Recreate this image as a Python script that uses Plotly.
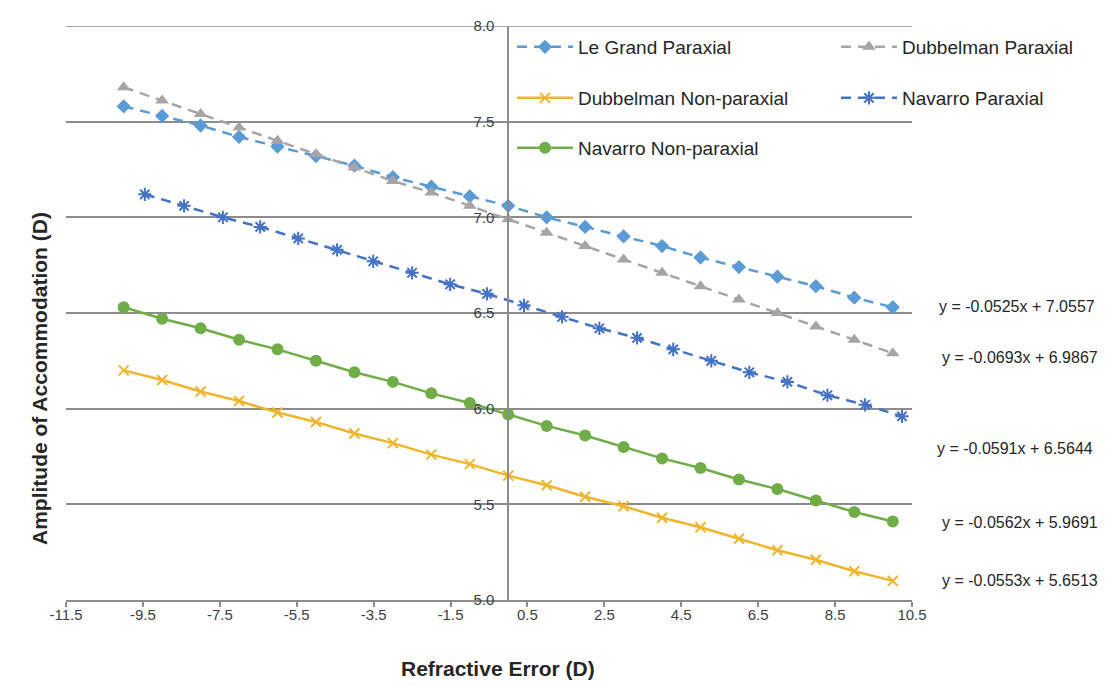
import plotly.graph_objects as go

# ---------------- data ----------------
x_int = [-10, -9, -8, -7, -6, -5, -4, -3, -2, -1, 0, 1, 2, 3, 4, 5, 6, 7, 8, 9, 10]

le_grand_par = [7.58, 7.53, 7.48, 7.42, 7.37, 7.32, 7.27, 7.21, 7.16, 7.11, 7.06,
                7.00, 6.95, 6.90, 6.85, 6.79, 6.74, 6.69, 6.64, 6.58, 6.53]
dubbelman_par = [7.68, 7.61, 7.54, 7.47, 7.40, 7.33, 7.26, 7.19, 7.13, 7.06, 6.99,
                 6.92, 6.85, 6.78, 6.71, 6.64, 6.57, 6.50, 6.43, 6.36, 6.29]
navarro_par_x = [-9.45, -8.43, -7.42, -6.45, -5.46, -4.45, -3.51, -2.50, -1.51, -0.55, 0.41,
                 1.40, 2.37, 3.35, 4.29, 5.28, 6.27, 7.26, 8.30, 9.28, 10.24]
navarro_par = [7.12, 7.06, 7.00, 6.95, 6.89, 6.83, 6.77, 6.71, 6.65, 6.60, 6.54,
               6.48, 6.42, 6.37, 6.31, 6.25, 6.19, 6.14, 6.07, 6.02, 5.96]
navarro_nonpar = [6.53, 6.47, 6.42, 6.36, 6.31, 6.25, 6.19, 6.14, 6.08, 6.03, 5.97,
                  5.91, 5.86, 5.80, 5.74, 5.69, 5.63, 5.58, 5.52, 5.46, 5.41]
dubbelman_nonpar = [6.20, 6.15, 6.09, 6.04, 5.98, 5.93, 5.87, 5.82, 5.76, 5.71, 5.65,
                    5.60, 5.54, 5.49, 5.43, 5.38, 5.32, 5.26, 5.21, 5.15, 5.10]

x_tickvals = [-11.5, -9.5, -7.5, -5.5, -3.5, -1.5, 0.5, 2.5, 4.5, 6.5, 8.5, 10.5]
x_ticktext = ["-11.5", "-9.5", "-7.5", "-5.5", "-3.5", "-1.5", "0.5", "2.5", "4.5", "6.5", "8.5", "10.5"]
y_tickvals = [5.0, 5.5, 6.0, 6.5, 7.0, 7.5, 8.0]

equations = ["y = -0.0525x + 7.0557", "y = -0.0693x + 6.9867", "y = -0.0591x + 6.5644",
             "y = -0.0562x + 5.9691", "y = -0.0553x + 5.6513"]
eq_x_px = [937, 940, 935, 940, 940]
eq_y_px = [306, 357, 448, 522, 580]

# ---------------- styling ----------------
C_LEGRAND = "#5B9BD5"
C_DUBPAR = "#A5A5A5"
C_DUBNON = "#F0B52C"
C_NAVPAR = "#4472C4"
C_NAVNON = "#70AD47"
SANS = "Liberation Sans, Arial, sans-serif"
DASH = "10px,7px"

OFF = 8  # page body margin in the browser
W, H = 1120, 686
PLOT_L, PLOT_R, PLOT_T, PLOT_B = 66, 912, 26, 600  # target screen coords
L = PLOT_L - OFF
T = PLOT_T - OFF
PW = PLOT_R - PLOT_L
PH = PLOT_B - PLOT_T
R = W - L - PW
B = H - T - PH


def px_x(p):
    return (p - PLOT_L) / PW


def px_y(p):
    return (PLOT_B - p) / PH


fig = go.Figure()

fig.add_trace(go.Scatter(
    x=x_int, y=le_grand_par, name="Le Grand Paraxial", mode="lines+markers",
    line=dict(color=C_LEGRAND, width=2.5, dash=DASH),
    marker=dict(symbol="diamond", size=11, color=C_LEGRAND), legend="legend"))
fig.add_trace(go.Scatter(
    x=x_int, y=dubbelman_par, name="Dubbelman Paraxial", mode="lines+markers",
    line=dict(color=C_DUBPAR, width=2.5, dash=DASH),
    marker=dict(symbol="triangle-up", size=12, color=C_DUBPAR), legend="legend"))
fig.add_trace(go.Scatter(
    x=x_int, y=dubbelman_nonpar, name="Dubbelman Non-paraxial", mode="lines+markers",
    line=dict(color=C_DUBNON, width=2.5),
    marker=dict(symbol="x-thin-open", size=10, color=C_DUBNON, line=dict(width=2, color=C_DUBNON)),
    legend="legend2"))
fig.add_trace(go.Scatter(
    x=navarro_par_x, y=navarro_par, name="Navarro Paraxial", mode="lines+markers",
    line=dict(color=C_NAVPAR, width=2.5, dash=DASH),
    marker=dict(symbol="asterisk-open", size=11, color=C_NAVPAR, line=dict(width=2, color=C_NAVPAR)),
    legend="legend2"))
fig.add_trace(go.Scatter(
    x=x_int, y=navarro_nonpar, name="Navarro Non-paraxial", mode="lines+markers",
    line=dict(color=C_NAVNON, width=2.5),
    marker=dict(symbol="circle", size=12, color=C_NAVNON), legend="legend3"))

legend_common = dict(orientation="h", entrywidth=253, entrywidthmode="pixels",
                     bgcolor="rgba(0,0,0,0)", font=dict(family=SANS, size=19, color="#262626"),
                     xanchor="left", yanchor="middle", itemwidth=56, traceorder="normal")

annotations = []
for txt, ex, ey in zip(equations, eq_x_px, eq_y_px):
    annotations.append(dict(text=txt, x=px_x(ex), y=px_y(ey), xref="paper", yref="paper",
                            xanchor="left", yanchor="middle", showarrow=False,
                            font=dict(family=SANS, size=16, color="#262626")))
annotations.append(dict(text="<b>Amplitude of Accommodation (D)</b>", x=px_x(40), y=px_y(379),
                        xref="paper", yref="paper", xanchor="center", yanchor="middle",
                        textangle=-90, showarrow=False,
                        font=dict(family=SANS, size=21, color="#262626")))
annotations.append(dict(text="<b>Refractive Error (D)</b>", x=px_x(498), y=px_y(668),
                        xref="paper", yref="paper", xanchor="center", yanchor="middle",
                        showarrow=False, font=dict(family=SANS, size=21, color="#262626")))

fig.update_layout(
    width=W, height=H,
    margin=dict(l=L, r=R, t=T, b=B, autoexpand=False),
    paper_bgcolor="white", plot_bgcolor="white",
    showlegend=True,
    legend=dict(x=px_x(512), y=px_y(47), **legend_common),
    legend2=dict(x=px_x(512), y=px_y(98), **legend_common),
    legend3=dict(x=px_x(512), y=px_y(148), **legend_common),
    annotations=annotations,
    shapes=[dict(type="line", xref="paper", yref="y", x0=0, x1=1, y0=8.0, y1=8.0,
                 line=dict(color="#8C8C8C", width=1.5), layer="below")],
    xaxis=dict(range=[-11.5, 10.5], tickvals=x_tickvals, ticktext=x_ticktext,
               showgrid=False, zeroline=False, showline=True, linecolor="#8C8C8C", linewidth=1.5,
               ticks="outside", ticklen=5, tickcolor="#8C8C8C", tickwidth=1.5,
               ticklabelstandoff=-5,
               tickfont=dict(family=SANS, size=15, color="#404040")),
    yaxis=dict(range=[5.0, 8.0], tickvals=y_tickvals, tickformat=".1f",
               anchor="free", position=11.5 / 22, side="left",
               showgrid=True, gridcolor="#8C8C8C", gridwidth=1.5,
               zeroline=False, showline=True, linecolor="#8C8C8C", linewidth=1.5,
               ticks="", ticklabelstandoff=10,
               tickfont=dict(family=SANS, size=15, color="#404040")),
)

fig.write_html("out.html")
